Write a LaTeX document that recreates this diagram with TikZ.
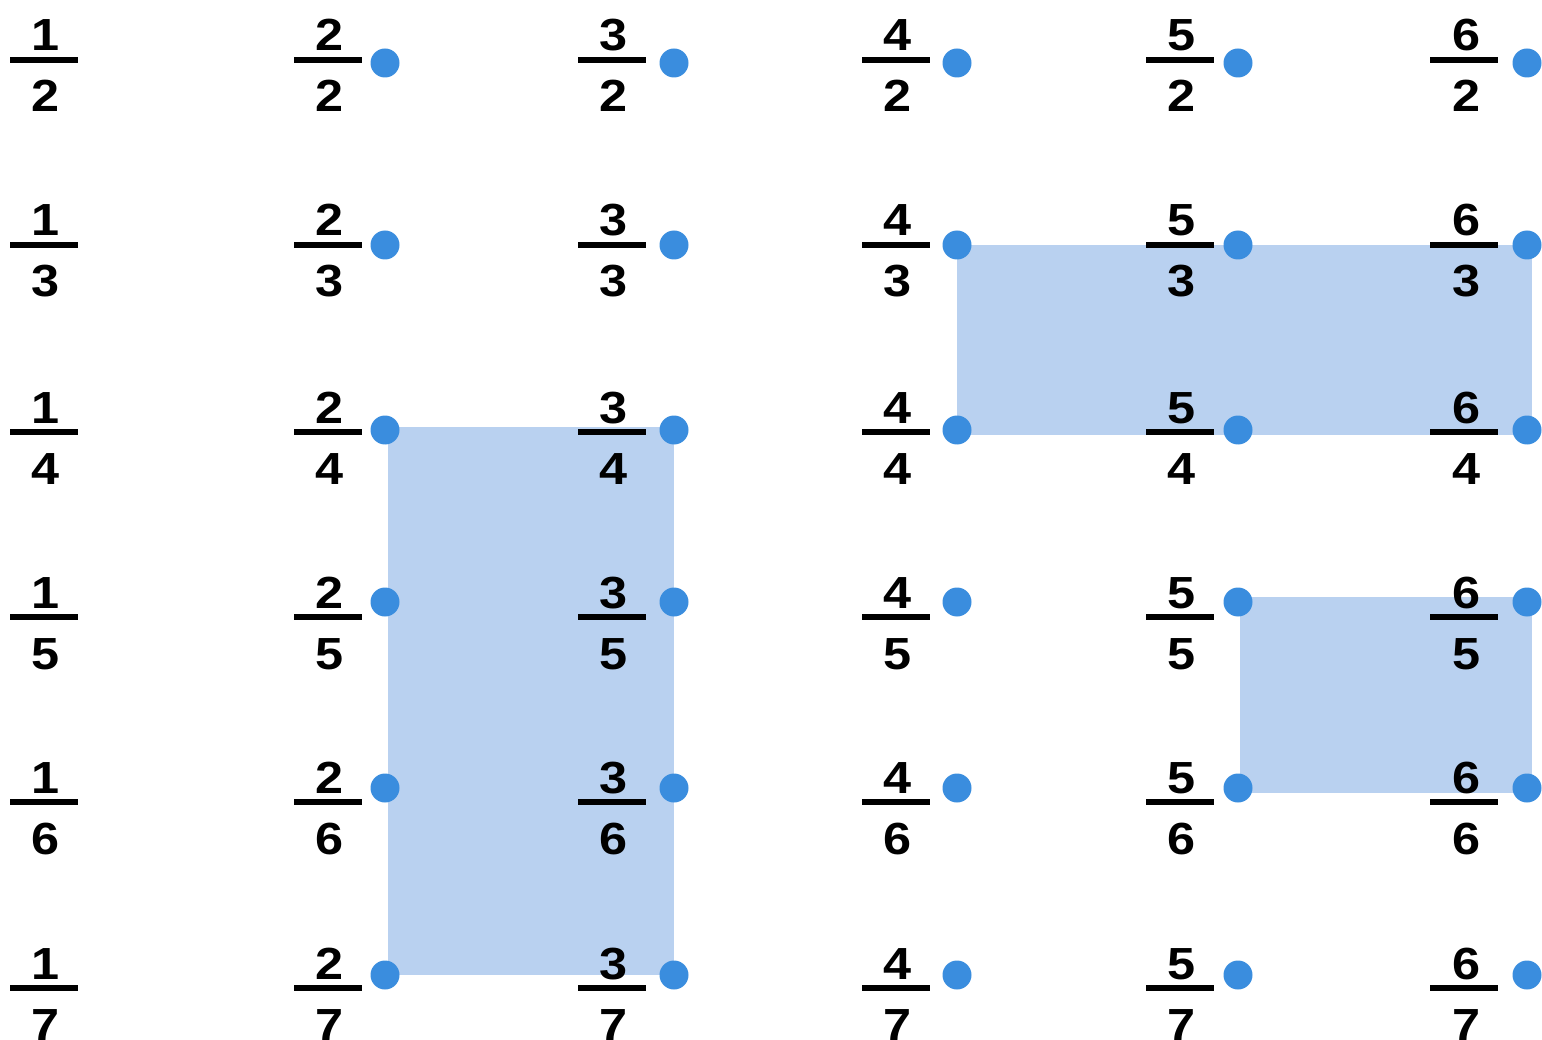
\documentclass[tikz,border=0pt]{standalone}
\usepackage{fontspec}
\setmainfont{Liberation Sans}[FakeStretch=1.12]
\definecolor{dotblue}{HTML}{3A8DDE}
\definecolor{regionblue}{HTML}{B9D1F0}
\begin{document}
\begin{tikzpicture}[x=1pt,y=-1pt,
  num/.style={anchor=base,inner sep=0pt,font=\fontsize{45}{45}\selectfont\bfseries},
  barline/.style={line width=6pt},
  dotmark/.style={circle,fill=dotblue,minimum size=29pt,inner sep=0pt},
  region/.style={fill=regionblue}]
\useasboundingbox (0,0) rectangle (1542,1040);
% dot positions
\foreach \c/\dx in {2/385,3/674,4/957,5/1238,6/1527}
  \foreach \r/\dy in {2/63,3/245,4/430,5/602,6/788,7/975}
    \coordinate (d\c\r) at (\dx,\dy);
% shaded regions
\fill[region] (388,427) rectangle (d37);
\fill[region] (d43) rectangle (1532,435);
\fill[region] (1240,597) rectangle (1532,793);
% fractions
\foreach \c/\x in {1/44,2/328,3/612,4/896,5/1180,6/1464}
  \foreach \r/\y in {2/60,3/245,4/432,5/617,6/802,7/988}
  {
    \node[num] (n\c\r) at (\x+2,\y-9) {\c};
    \node[num] (m\c\r) at (\x+2,\y+52) {\r};
    \coordinate (bl\c\r) at (\x-34,\y);
    \coordinate (br\c\r) at (\x+34,\y);
    \draw[barline] (bl\c\r) -- (br\c\r);
  }
% dots
\foreach \c in {2,...,6}
  \foreach \r in {2,...,7}
    \node[dotmark] (p\c\r) at (d\c\r) {};
\end{tikzpicture}
\end{document}
